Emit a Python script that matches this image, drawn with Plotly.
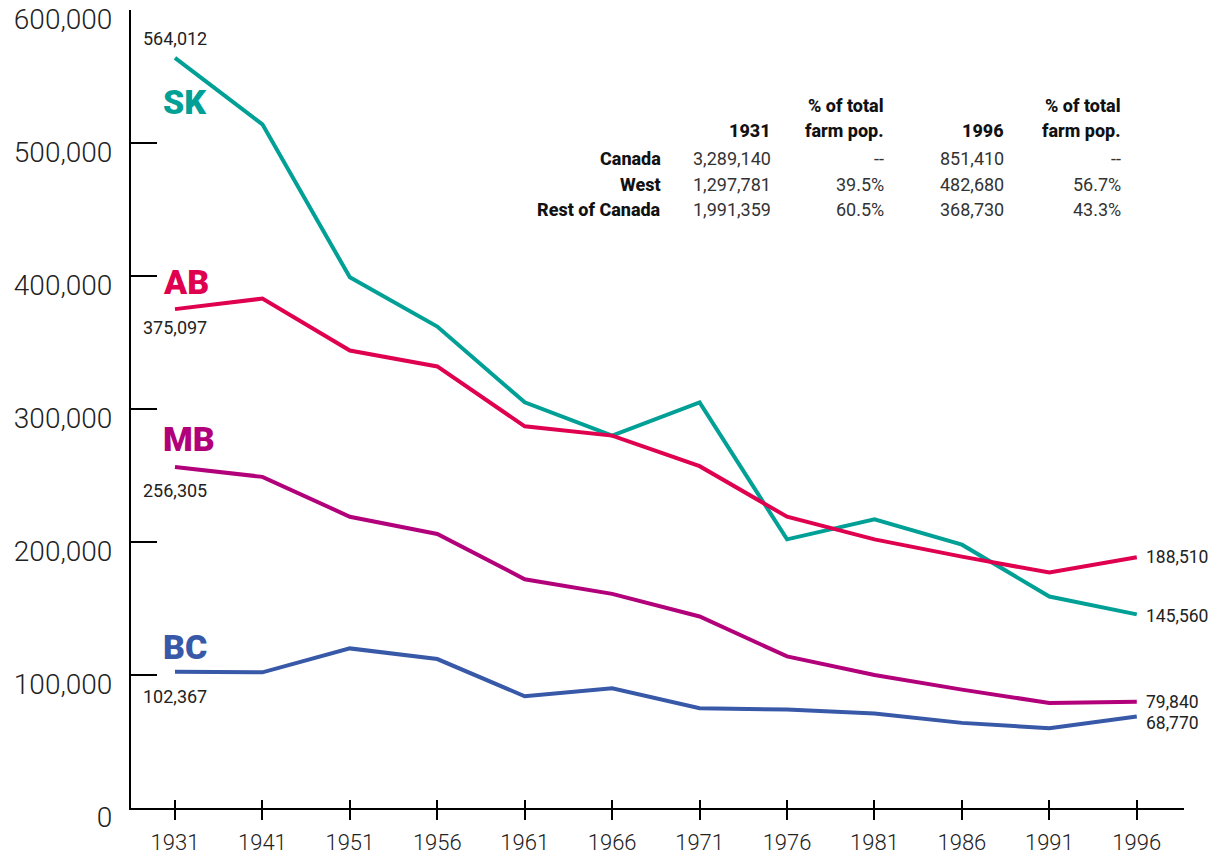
import plotly.graph_objects as go

years = ["1931", "1941", "1951", "1956", "1961", "1966", "1971", "1976", "1981", "1986", "1991", "1996"]
sk = [564012, 514000, 399000, 362000, 305000, 280000, 305000, 202000, 217000, 198000, 159000, 145560]
ab = [375097, 383000, 344000, 332000, 287000, 280000, 257000, 219000, 202000, 189000, 177000, 188510]
mb = [256305, 249000, 219000, 206000, 172000, 161000, 144000, 114000, 100000, 89000, 79000, 79840]
bc = [102367, 102000, 120000, 112000, 84000, 90000, 75000, 74000, 71000, 64000, 60000, 68770]

series = [
    ("SK", sk, "#00A096"),
    ("AB", ab, "#DF004F"),
    ("MB", mb, "#B2007B"),
    ("BC", bc, "#3858A8"),
]

table_rows = ["Canada", "West", "Rest of Canada"]
pop_1931 = ["3,289,140", "1,297,781", "1,991,359"]
pct_1931 = ["--", "39.5%", "60.5%"]
pop_1996 = ["851,410", "482,680", "368,730"]
pct_1996 = ["--", "56.7%", "43.3%"]

xi = list(range(len(years)))
W, H = 1217, 855
ML, MR, MT, MB_ = 123, 41, 2, 55

fig = go.Figure()
for name, vals, col in series:
    fig.add_trace(go.Scatter(x=xi, y=vals, mode="lines", line=dict(color=col, width=4),
                             showlegend=False, hoverinfo="skip"))
fig.add_trace(go.Scatter(x=[0], y=[0], xaxis="x2", mode="markers",
                         marker=dict(opacity=0), showlegend=False, hoverinfo="skip"))

font = "Roboto, Arial, sans-serif"
annotations = []
name_shift = {"SK": -44, "AB": 27, "MB": 28, "BC": 25}
for name, vals, col in series:
    annotations.append(dict(x=0, y=vals[0], xref="x", yref="y", text=name,
                            showarrow=False, xanchor="left", yanchor="middle",
                            xshift=-14, yshift=name_shift[name],
                            font=dict(family=font, size=34, color=col, weight=900)))
start_shift = {"SK": 19, "AB": -18, "MB": -23, "BC": -25}
for name, vals, col in series:
    annotations.append(dict(x=0, y=vals[0], xref="x", yref="y", text=f"{vals[0]:,}",
                            showarrow=False, xanchor="left", yanchor="middle",
                            xshift=-34, yshift=start_shift[name],
                            font=dict(family=font, size=18, color="#222")))
end_shift = {"SK": -2, "AB": 0, "MB": 0, "BC": -6}
for name, vals, col in series:
    annotations.append(dict(x=xi[-1], y=vals[-1], xref="x", yref="y", text=f"{vals[-1]:,}",
                            showarrow=False, xanchor="left", yanchor="middle",
                            xshift=7, yshift=end_shift[name],
                            font=dict(family=font, size=17.5, color="#222")))

# table, positioned relative to the plotting area
def px(xp, yp):
    return (xp - 130) / (1183 - 130), 1 - (yp - 10) / (808 - 10)

tfont = "Roboto, Arial, sans-serif"
col_right = [662, 772, 885, 1005, 1122]
line1 = ["", "", "% of total", "", "% of total"]
line2 = ["", "1931", "farm pop.", "1996", "farm pop."]
for ci in range(5):
    for txt, yp in ((line1[ci], 105), (line2[ci], 130)):
        if txt:
            xx, yy = px(col_right[ci], yp)
            annotations.append(dict(x=xx, y=yy, xref="paper", yref="paper", text=txt,
                                    showarrow=False, xanchor="right", yanchor="middle",
                                    font=dict(family=tfont, size=18, color="#111", weight=800)))
for ri, rname in enumerate(table_rows):
    yp = 159 + ri * 25
    cells = [rname, pop_1931[ri], pct_1931[ri], pop_1996[ri], pct_1996[ri]]
    for ci, txt in enumerate(cells):
        xx, yy = px(col_right[ci], yp)
        annotations.append(dict(x=xx, y=yy, xref="paper", yref="paper", text=txt,
                                showarrow=False, xanchor="right", yanchor="middle",
                                font=dict(family=tfont, size=18,
                                          color="#111" if ci == 0 else "#333",
                                          weight=800 if ci == 0 else 400)))

xr = [-0.503, 11.54]
fig.update_layout(
    width=W, height=H,
    margin=dict(l=ML, r=MR, t=MT, b=MB_),
    paper_bgcolor="white", plot_bgcolor="white",
    annotations=annotations,
    xaxis=dict(range=xr, tickmode="array", tickvals=xi, ticktext=years, automargin=False,
               showgrid=False, zeroline=False, showline=True, linecolor="black", linewidth=2,
               ticks="outside", ticklen=10, tickwidth=2, tickcolor="black",
               ticklabelstandoff=4,
               tickfont=dict(family=font, size=22, color="#222", weight=300)),
    xaxis2=dict(range=xr, overlaying="x", anchor="y", side="bottom", tickmode="array",
                tickvals=xi, showticklabels=False, showgrid=False, zeroline=False,
                showline=False, ticks="inside", ticklen=8, tickwidth=2, tickcolor="black"),
    yaxis=dict(range=[0, 600001], tickmode="array",
               tickvals=[0, 100000, 200000, 300000, 400000, 500000, 600000],
               tickformat=",d", showgrid=False, zeroline=False, showline=True, linecolor="black",
               linewidth=2, ticks="inside", ticklen=26, tickwidth=2, tickcolor="black",
               automargin=False, ticklabeloverflow="allow",
               ticklabelstandoff=11, ticklabelshift=9,
               tickfont=dict(family=font, size=28, color="#222", weight=300)),
)

fig.write_html("out.html")
